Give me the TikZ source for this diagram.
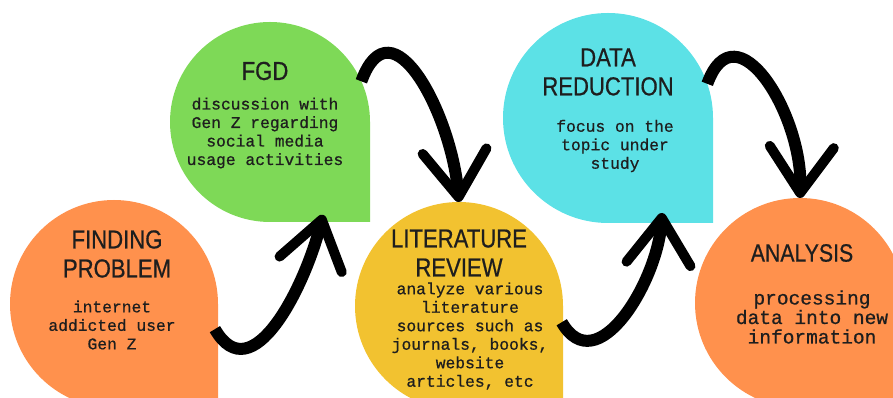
\documentclass[tikz,border=0pt]{standalone}
\usepackage{fontspec}
\newfontfamily\notefont[FakeBold=0.7]{Liberation Mono}
\newfontfamily\titlefont[FakeStretch=0.85, FakeBold=0.6]{Liberation Sans}
\usetikzlibrary{arrows.meta}

\definecolor{dropOrange}{HTML}{FF914D}
\definecolor{dropGreen}{HTML}{7ED957}
\definecolor{dropYellow}{HTML}{F2C230}
\definecolor{dropCyan}{HTML}{5CE1E6}
\definecolor{ink}{HTML}{1E1E1E}

\begin{document}
\begin{tikzpicture}[x=1pt, y=1pt,
  drop/.style={circle, inner sep=0pt, outer sep=0pt},
  title/.style={align=center, text=ink, font=\titlefont\fontsize{26}{29}\selectfont},
  note/.style={align=center, text=ink, font=\notefont\fontsize{16.3}{18.5}\selectfont},
  brush/.style={draw=black, line width=12pt,
    -{Straight Barb[length=46pt, width=64pt, line width=10pt, round]}}]

  \useasboundingbox (0,0) rectangle (893,398);
  \clip (0,0) rectangle (893,398);

  % drops: round on three sides, square corner at the bottom right
  \foreach \name/\cx/\cy/\r/\col in {find/114/94/104/dropOrange,
      fgd/270/276/100/dropGreen, litrev/459/92/104/dropYellow,
      datared/608/280/105/dropCyan, analysis/800/95/105/dropOrange}
  {
    \node[drop, minimum size=\r*2pt] (\name) at (\cx,\cy) {};
    \fill[\col] (\name.south) arc[start angle=270, end angle=0, radius=\r] |- (\name.south);
  }

  \node[title] (findT) at ([shift={(3,50)}]find.center) {FINDING\\PROBLEM};
  \node[note] (findB) at ([shift={(-2,-21)}]find.center) {internet\\addicted user\\Gen Z};

  \node[title] (fgdT) at ([shift={(-5,51)}]fgd.center) {FGD};
  \node[note] (fgdB) at ([shift={(-5,-11)}]fgd.center)
    {discussion with\\Gen Z regarding\\social media\\usage activities};

  \node[title] (litrevT) at ([shift={(0,53)}]litrev.center) {LITERATURE\\REVIEW};
  \node[note] (litrevB) at ([shift={(11,-30)}]litrev.center)
    {analyze various\\literature\\sources such as\\journals, books,\\website\\articles, etc};

  \node[title] (dataredT) at ([shift={(0,46)}]datared.center) {DATA\\REDUCTION};
  \node[note] (dataredB) at ([shift={(7,-28)}]datared.center) {focus on the\\topic under\\study};

  \node[title, font=\titlefont\fontsize{25}{29}\selectfont] (analysisT) at ([shift={(2,50)}]analysis.center) {ANALYSIS};
  \node[note, font=\notefont\fontsize{19.5}{19.5}\selectfont] (analysisB) at ([shift={(12,-14)}]analysis.center)
    {processing\\data into new\\information};

  \draw[brush] (find.-14) to[out=-60, in=-104, looseness=1.2] ([yshift=-8pt]fgd.-58);
  \draw[brush] (fgd.24) to[out=70, in=95, looseness=1.45] (litrev.north);
  \draw[brush] (litrev.-9) to[out=-60, in=-94, looseness=1.2] ([yshift=-5pt]datared.-59);
  \draw[brush] (datared.19) to[out=70, in=88, looseness=1.45] (analysis.north);

\end{tikzpicture}
\end{document}
